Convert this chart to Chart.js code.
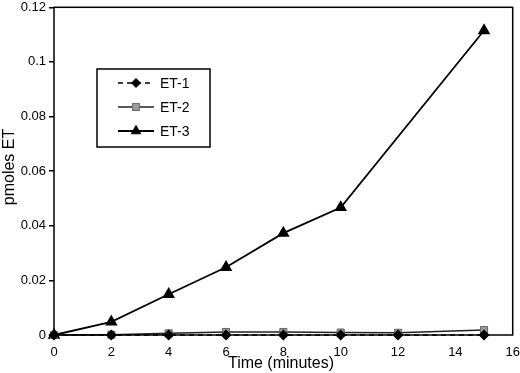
<!DOCTYPE html>
<html><head><meta charset="utf-8">
<script src="https://cdn.jsdelivr.net/npm/chart.js@4"></script>
<style>html,body{margin:0;padding:0;background:#fff}#wrap{width:520px;height:373px;position:relative}</style>
</head><body><div id="wrap"><canvas id="c" width="520" height="373"></canvas></div>
<script>
const times = [0, 2, 4, 6, 8, 10, 12, 15];
const et1 = [0, 0, 0, 0, 0, 0, 0, 0];
const et2 = [0, 0.0001, 0.0006, 0.0011, 0.0011, 0.0009, 0.0008, 0.0018];
const et3 = [0, 0.0048, 0.0149, 0.0248, 0.0373, 0.0467, null, 0.1115];
const seriesNames = ['ET-1', 'ET-2', 'ET-3'];
const xTitle = 'Time (minutes)';
const yTitle = 'pmoles ET';

function pts(arr){ return times.map((t,i)=>({x:t,y:arr[i]})).filter(p=>p.y!==null); }

const FONT = '"Liberation Sans", Arial, sans-serif';

const frame = {
  id:'frame',
  afterDatasetsDraw(chart){
    const {ctx, chartArea:a} = chart;
    ctx.save();
    ctx.strokeStyle='#000'; ctx.lineWidth=1.5;
    ctx.strokeRect(a.left, a.top, a.right-a.left, a.bottom-a.top);
    ctx.fillStyle='#000';
    ctx.font='16px '+FONT;
    ctx.textAlign='center'; ctx.textBaseline='middle';
    ctx.fillText(xTitle, 281, 364);
    ctx.translate(10, 167); ctx.rotate(-Math.PI/2);
    ctx.fillText(yTitle, 0, 0);
    ctx.restore();
    // legend
    ctx.save();
    ctx.fillStyle='#fff';
    ctx.fillRect(97,69,113,78);
    ctx.strokeStyle='#000'; ctx.lineWidth=1.5;
    ctx.strokeRect(97,69,113,78);
    const ys=[83,107,131];
    chart.data.datasets.forEach((ds,i)=>{
      const y=ys[i];
      ctx.save();
      ctx.strokeStyle=ds.borderColor; ctx.lineWidth=ds.borderWidth;
      ctx.setLineDash(ds.borderDash||[]);
      ctx.beginPath(); ctx.moveTo(118,y); ctx.lineTo(154,y); ctx.stroke();
      ctx.restore();
      ctx.save();
      ctx.fillStyle=ds.pointBackgroundColor; ctx.strokeStyle=ds.pointBorderColor; ctx.lineWidth=1;
      Chart.helpers.drawPoint(ctx,{pointStyle:ds.pointStyle,radius:ds.pointRadius,borderWidth:1,rotation:0},136,y);
      ctx.restore();
      ctx.fillStyle='#000'; ctx.font='14px '+FONT;
      ctx.textAlign='left'; ctx.textBaseline='middle';
      ctx.fillText(seriesNames[i],160,y+1);
    });
    ctx.restore();
  }
};

new Chart(document.getElementById('c'), {
  type:'line',
  data:{datasets:[
    {label:seriesNames[0], data:pts(et1), borderColor:'#000', borderWidth:1.5, borderDash:[5,4],
     pointStyle:'rectRot', pointRadius:4.5, pointBackgroundColor:'#000', pointBorderColor:'#000', clip:false},
    {label:seriesNames[1], data:pts(et2), borderColor:'#222', borderWidth:1.5,
     pointStyle:'rect', pointRadius:5, pointBackgroundColor:'#9a9a9a', pointBorderColor:'#666', pointBorderWidth:1, clip:false},
    {label:seriesNames[2], data:pts(et3), borderColor:'#000', borderWidth:1.8,
     pointStyle:'triangle', pointRadius:5.5, pointBackgroundColor:'#000', pointBorderColor:'#000', clip:false}
  ]},
  options:{
    responsive:false, animation:false,
    layout:{padding:{top:3,right:7,left:0,bottom:0}},
    plugins:{legend:{display:false}, tooltip:{enabled:false}},
    elements:{line:{tension:0}},
    scales:{
      x:{type:'linear', min:0, max:16,
         ticks:{stepSize:2, color:'#000', font:{family:FONT,size:13}, padding:10, maxRotation:0},
         grid:{drawOnChartArea:false, drawTicks:false, color:'#000'},
         border:{display:false},
         afterFit(s){s.height=38; s.paddingRight=0; s.paddingLeft=0;}},
      y:{min:0, max:0.12,
         ticks:{stepSize:0.02, color:'#000', font:{family:FONT,size:13}, padding:3,
                callback:v=>String(+(+v).toFixed(2))},
         grid:{drawOnChartArea:false, drawTicks:true, tickLength:5, color:'#000', lineWidth:1.5},
         border:{display:false},
         afterFit(s){s.width=54; s.paddingTop=0; s.paddingBottom=0;}}
    }
  },
  plugins:[frame]
});
</script></body></html>
